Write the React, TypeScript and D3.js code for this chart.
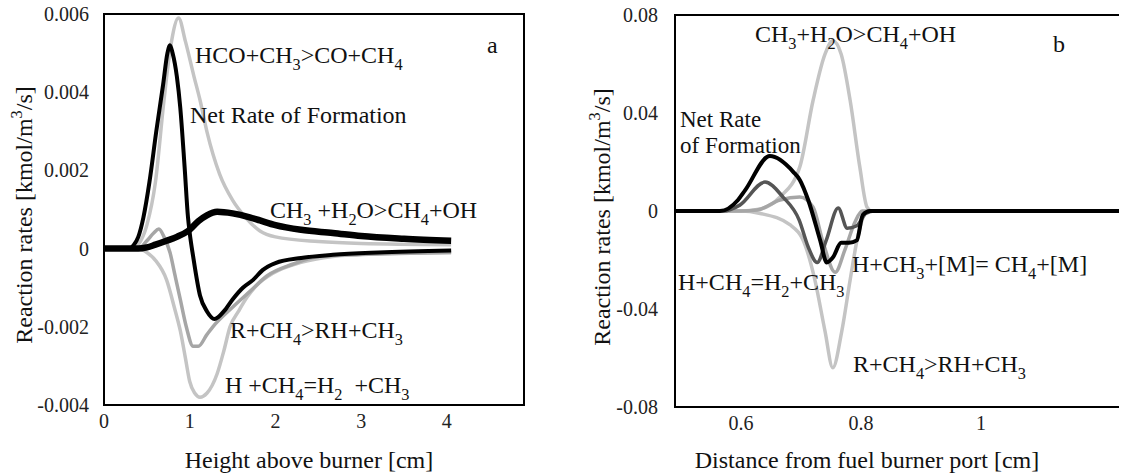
import React from "react";
import * as d3 from "d3";

const FONT = "'Liberation Serif', 'Times New Roman', Times, serif";

// ---------- Panel a data (x: height above burner [cm], y: kmol/m3/s) ----------
const aTicksX = [0, 1, 2, 3, 4];
const aTicksY = [0.006, 0.004, 0.002, 0, -0.002, -0.004];
const aTickLabelsY = ["0.006", "0.004", "0.002", "0", "-0.002", "-0.004"];

const aNet: [number, number][] = [
  [0, 0], [0.3, 0], [0.35, 0.0001], [0.4, 0.0003], [0.46, 0.0008], [0.53, 0.0017],
  [0.61, 0.003], [0.69, 0.0042], [0.74, 0.005], [0.77, 0.0052], [0.8, 0.005],
  [0.85, 0.0044], [0.89, 0.0036], [0.94, 0.0021], [0.98, 0.0008], [1.0, 0.0004],
  [1.04, -0.0002], [1.12, -0.0012], [1.2, -0.0016], [1.29, -0.0018], [1.4, -0.0016],
  [1.5, -0.0013], [1.62, -0.001], [1.74, -0.0008], [1.85, -0.00055], [2.0, -0.00037],
  [2.3, -0.00024], [2.67, -0.00016], [3.2, -0.0001], [4.05, -0.00005],
];
const aCH3H2O: [number, number][] = [
  [0, 0], [0.4, 0], [0.5, 0.00003], [0.6, 0.0001], [0.73, 0.0002], [0.85, 0.0003],
  [0.98, 0.00045], [1.1, 0.0007], [1.2, 0.00085], [1.32, 0.00094], [1.5, 0.0009],
  [1.7, 0.0008], [1.82, 0.00072], [2.0, 0.0006], [2.3, 0.00048], [2.67, 0.0004],
  [3.0, 0.00032], [3.5, 0.00025], [4.05, 0.0002],
];
const aHCO: [number, number][] = [
  [0, 0], [0.35, 0], [0.4, 0.0001], [0.5, 0.0006], [0.6, 0.0017], [0.7, 0.0038],
  [0.78, 0.0052], [0.87, 0.0059], [0.95, 0.0053], [1.05, 0.0044], [1.12, 0.0038],
  [1.2, 0.003], [1.35, 0.0019], [1.5, 0.00124], [1.65, 0.0008], [1.82, 0.00045],
  [2.0, 0.0003], [2.5, 0.00018], [3.0, 0.00013], [4.05, 0.0001],
];
const aRCH4: [number, number][] = [
  [0, 0], [0.4, 0], [0.5, 0.0002], [0.58, 0.0004], [0.64, 0.0005], [0.7, 0.0003],
  [0.77, -0.0001], [0.83, -0.0007], [0.89, -0.0013], [0.96, -0.002], [1.04, -0.0025],
  [1.1, -0.0025], [1.2, -0.0022], [1.27, -0.002], [1.5, -0.0015], [1.7, -0.0011],
  [1.9, -0.0007], [2.2, -0.0004], [2.5, -0.0002], [3.0, -0.00015], [4.05, -0.0001],
];
const aHCH4: [number, number][] = [
  [0, 0], [0.4, 0], [0.5, -0.0001], [0.6, -0.0003], [0.73, -0.0008], [0.82, -0.0015],
  [0.89, -0.0021], [0.95, -0.0028], [1.0, -0.0034], [1.06, -0.0037], [1.12, -0.0038],
  [1.2, -0.0037], [1.32, -0.0032], [1.4, -0.0026], [1.47, -0.002], [1.57, -0.0016],
  [1.67, -0.00124], [1.8, -0.0009], [1.97, -0.00063], [2.3, -0.00035], [2.67, -0.0002],
  [3.2, -0.00013], [4.05, -0.0001],
];

// ---------- Panel b data (x: distance from fuel burner port [cm]) ----------
const bTicksX = [0.6, 0.8, 1];
const bTickLabelsX = ["0.6", "0.8", "1"];
const bTicksY = [0.08, 0.04, 0, -0.04, -0.08];
const bTickLabelsY = ["0.08", "0.04", "0", "-0.04", "-0.08"];

const bCH3H2O: [number, number][] = [
  [0.49, 0], [0.6, 0], [0.632, 0.0008], [0.665, 0.0057], [0.698, 0.018], [0.72, 0.045],
  [0.74, 0.064], [0.753, 0.0695], [0.767, 0.064], [0.782, 0.045], [0.798, 0.018],
  [0.81, 0.0016], [0.818, 0], [1.23, 0],
];
const bRCH4: [number, number][] = [
  [0.49, 0], [0.6, 0], [0.632, -0.001], [0.682, -0.0057], [0.707, -0.014], [0.723, -0.028],
  [0.74, -0.049], [0.753, -0.064], [0.768, -0.049], [0.782, -0.028], [0.795, -0.01],
  [0.807, -0.001], [0.815, 0], [1.23, 0],
];
const bHCH3M: [number, number][] = [
  [0.49, 0], [0.6, 0], [0.627, 0.0004], [0.665, 0.0045], [0.698, 0.0057], [0.72, 0.0016],
  [0.737, -0.013], [0.757, -0.025], [0.773, -0.016], [0.79, -0.0045], [0.802, 0], [1.23, 0],
];
const bHCH4: [number, number][] = [
  [0.49, 0], [0.57, 0], [0.598, 0.0024], [0.64, 0.0118], [0.67, 0.0057], [0.697, -0.0037],
  [0.712, -0.0147], [0.727, -0.021], [0.742, -0.012], [0.762, 0.0012], [0.777, -0.007],
  [0.793, -0.006], [0.808, -0.001], [0.823, 0], [1.23, 0],
];
const bNet: [number, number][] = [
  [0.49, 0], [0.565, 0], [0.595, 0.0045], [0.607, 0.0085], [0.648, 0.0224], [0.687, 0.016],
  [0.698, 0.0127], [0.712, 0.0045], [0.732, -0.012], [0.743, -0.021], [0.753, -0.019],
  [0.767, -0.013], [0.78, -0.013], [0.793, -0.012], [0.803, -0.0016], [0.815, 0], [1.23, 0],
];

// ---------- text helper: _x subscript, ^x superscript ----------
function Rich({ text, x, y, size, anchor = "start", transform }: any) {
  const parts: { t: string; k: "n" | "sub" | "sup" }[] = [];
  let i = 0;
  let buf = "";
  while (i < text.length) {
    const c = text[i];
    if ((c === "_" || c === "^") && i + 1 < text.length) {
      if (buf) parts.push({ t: buf, k: "n" });
      buf = "";
      parts.push({ t: text[i + 1], k: c === "_" ? "sub" : "sup" });
      i += 2;
    } else {
      buf += c;
      i++;
    }
  }
  if (buf) parts.push({ t: buf, k: "n" });
  const small = size * 0.68;
  const off = size * 0.28;
  const offUp = size * 0.42;
  let cur = 0;
  const spans = parts.map((p, j) => {
    let target = 0;
    let fs = size;
    if (p.k === "sub") { target = off; fs = small; }
    if (p.k === "sup") { target = -offUp; fs = small; }
    const dy = target - cur;
    cur = target;
    return (
      <tspan key={j} dy={dy} fontSize={fs}>{p.t}</tspan>
    );
  });
  return (
    <text x={x} y={y} fontSize={size} fill="#111" textAnchor={anchor}
      transform={transform} style={{ whiteSpace: "pre", fontFamily: FONT }}>
      {spans}
    </text>
  );
}

export default function App() {
  // Panel a scales
  const ax = d3.scaleLinear().domain([0, 4.9]).range([104, 524]);
  const ay = d3.scaleLinear().domain([-0.004, 0.006]).range([405, 14]);
  // Panel b scales
  const bx = d3.scaleLinear().domain([0.49, 1.23]).range([675, 1119]);
  const by = d3.scaleLinear().domain([-0.08, 0.08]).range([407, 15]);

  const la = d3.line<[number, number]>().x((d) => ax(d[0])).y((d) => ay(d[1])).curve(d3.curveMonotoneX);
  const lb = d3.line<[number, number]>().x((d) => bx(d[0])).y((d) => by(d[1])).curve(d3.curveMonotoneX);

  const LIGHT = "#c4c4c4";
  const MID = "#a6a6a6";
  const DARK = "#555555";
  const tickStyle = { fontFamily: FONT } as React.CSSProperties;

  return (
    <svg width={1123} height={474} style={{ position: "absolute", left: 0, top: 0, background: "#fff", fontFamily: FONT }}>
      <rect x={0} y={0} width={1123} height={474} fill="#fff" />

      {/* ---------------- Panel a ---------------- */}
      <g>
        <path d={la(aHCO)!} fill="none" stroke={LIGHT} strokeWidth={3.5} />
        <path d={la(aHCH4)!} fill="none" stroke={LIGHT} strokeWidth={3.5} />
        <path d={la(aRCH4)!} fill="none" stroke={MID} strokeWidth={3.5} />
        <path d={la(aCH3H2O)!} fill="none" stroke="#000" strokeWidth={6.5} />
        <path d={la(aNet)!} fill="none" stroke="#000" strokeWidth={4} />

        <rect x={ax(0)} y={ay(0.006)} width={ax(4.9) - ax(0)} height={ay(-0.004) - ay(0.006)}
          fill="none" stroke="#000" strokeWidth={2} />

        {aTicksY.map((t, i) => (
          <text key={i} x={89} y={ay(t) + 7} fontSize={20} style={tickStyle} textAnchor="end" fill="#222">
            {aTickLabelsY[i]}
          </text>
        ))}
        {aTicksX.map((t) => (
          <text key={t} x={ax(t)} y={428} fontSize={20} style={tickStyle} textAnchor="middle" fill="#222">
            {String(t)}
          </text>
        ))}
        <Rich text="Height above burner [cm]" x={309} y={468} size={24} anchor="middle" />
        <Rich text="Reaction rates [kmol/m^3/s]" x={0} y={0} size={24} anchor="middle"
          transform="translate(32,215) rotate(-90)" />

        <Rich text="HCO+CH_3>CO+CH_4" x={195} y={63} size={24} />
        <Rich text="a" x={487} y={53} size={24} />
        <Rich text="Net Rate of Formation" x={190} y={123} size={24} />
        <Rich text="CH_3 +H_2O>CH_4+OH" x={270} y={218} size={24} />
        <Rich text="R+CH_4>RH+CH_3" x={230} y={338} size={24} />
        <Rich text="H +CH_4=H_2  +CH_3" x={225} y={393} size={24} />
      </g>

      {/* ---------------- Panel b ---------------- */}
      <g>
        <path d={lb(bCH3H2O)!} fill="none" stroke={LIGHT} strokeWidth={3.5} />
        <path d={lb(bRCH4)!} fill="none" stroke={LIGHT} strokeWidth={3.5} />
        <path d={lb(bHCH3M)!} fill="none" stroke={MID} strokeWidth={3.5} />
        <path d={lb(bHCH4)!} fill="none" stroke={DARK} strokeWidth={3.5} />
        <path d={lb(bNet)!} fill="none" stroke="#000" strokeWidth={4} />

        <path d={`M${bx(1.23)},${by(0.08)}H${bx(0.49)}V${by(-0.08)}H${bx(1.23)}`}
          fill="none" stroke="#000" strokeWidth={2} />

        {bTicksY.map((t, i) => (
          <text key={i} x={658} y={by(t) + 7} fontSize={20} style={tickStyle} textAnchor="end" fill="#222">
            {bTickLabelsY[i]}
          </text>
        ))}
        {bTicksX.map((t, i) => (
          <text key={i} x={bx(t)} y={430} fontSize={20} style={tickStyle} textAnchor="middle" fill="#222">
            {bTickLabelsX[i]}
          </text>
        ))}
        <Rich text="Distance from fuel burner port [cm]" x={867} y={468} size={24} anchor="middle" />
        <Rich text="Reaction rates [kmol/m^3/s]" x={0} y={0} size={24} anchor="middle"
          transform="translate(610,217) rotate(-90)" />

        <Rich text="CH_3+H_2O>CH_4+OH" x={755} y={42} size={24} />
        <Rich text="b" x={1053} y={52} size={24} />
        <Rich text="Net Rate" x={680} y={127} size={23} />
        <Rich text="of Formation" x={680} y={153} size={23} />
        <Rich text="H+CH_3+[M]= CH_4+[M]" x={852} y={272} size={24} />
        <Rich text="H+CH_4=H_2+CH_3" x={678} y={290} size={24} />
        <Rich text="R+CH_4>RH+CH_3" x={853} y={372} size={24} />
      </g>
    </svg>
  );
}
